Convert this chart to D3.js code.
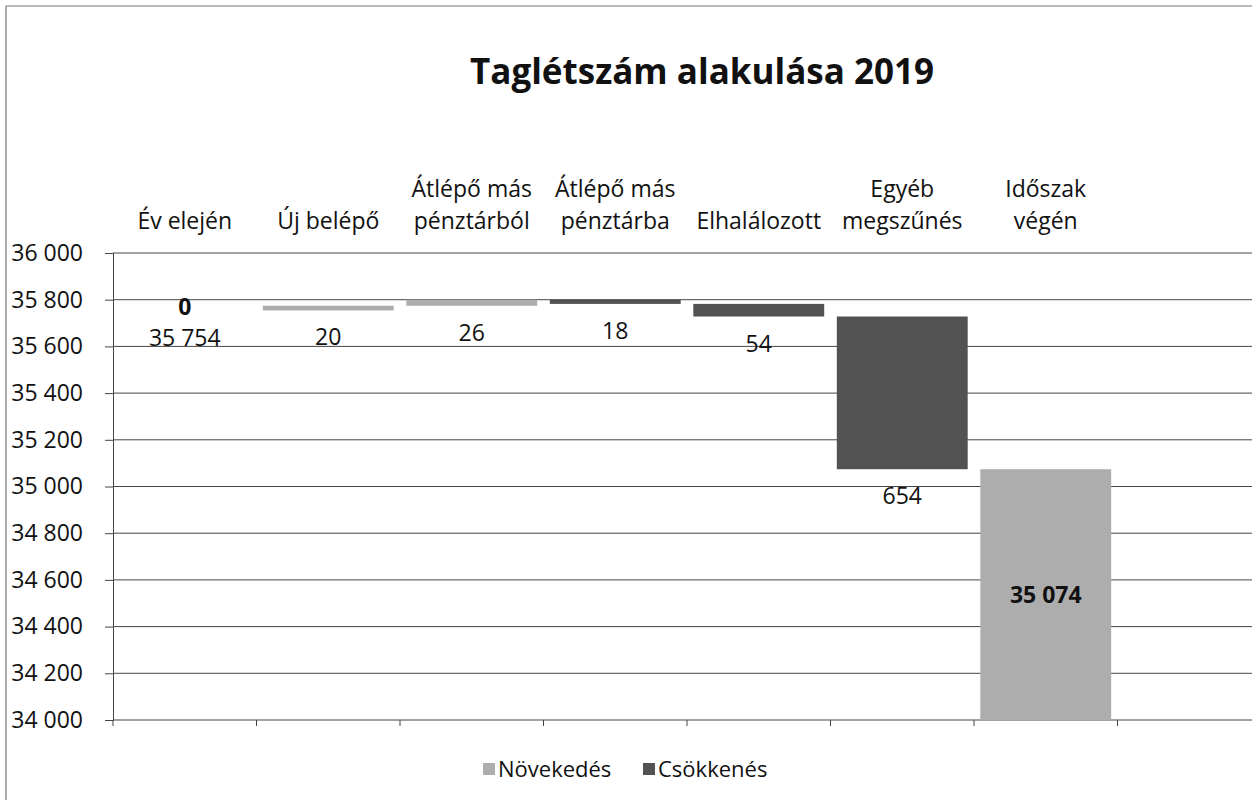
<!DOCTYPE html>
<html>
<head>
<meta charset="utf-8">
<script src="https://cdn.jsdelivr.net/npm/d3@7"></script>
<style>
  html, body { margin: 0; padding: 0; background: #fff; }
  svg { display: block; font-family: "Open Sans", "DejaVu Sans", sans-serif; }
</style>
</head>
<body>
<svg id="chart" width="1252" height="800"></svg>
<script>
// ---- data ----
const title = "Taglétszám alakulása 2019";
const categories = [
  ["Év elején"],
  ["Új belépő"],
  ["Átlépő más", "pénztárból"],
  ["Átlépő más", "pénztárba"],
  ["Elhalálozott"],
  ["Egyéb", "megszűnés"],
  ["Időszak", "végén"]
];
const baseValues = [35754, 35754, 35774, 35782, 35728, 35074, 0];   // invisible series
const increaseValues = [0, 20, 26, 0, 0, 0, 35074];                  // Növekedés
const decreaseValues = [0, 0, 0, 18, 54, 654, 0];                    // Csökkenés
const seriesNames = ["Növekedés", "Csökkenés"];
const yTicks = [34000, 34200, 34400, 34600, 34800, 35000, 35200, 35400, 35600, 35800, 36000];

// ---- setup ----
const svg = d3.select("#chart");
const W = 1252, H = 800;
const colInc = "#adadad", colDec = "#525252", gridCol = "#454545";
const locale = d3.formatLocale({decimal: ",", thousands: " ", grouping: [3], currency: ["", ""]});
const fmt = locale.format(",");
const fs = 23;

const left = 113, step = 143.5;
const x = d3.scaleBand()
  .domain(d3.range(categories.length + 1))
  .range([left, left + step * (categories.length + 1)])
  .paddingInner(0.088).paddingOuter(0.044);
const y = d3.scaleLinear().domain([34000, 36000]).range([720, 253]);

// chart border (top / left)
svg.append("line").attr("x1", 6).attr("x2", W).attr("y1", 6).attr("y2", 6)
  .attr("stroke", "#777").attr("stroke-width", 1.2);
svg.append("line").attr("x1", 6).attr("x2", 6).attr("y1", 6).attr("y2", H)
  .attr("stroke", "#777").attr("stroke-width", 1.2);

// title
svg.append("text").attr("x", 702).attr("y", 84).attr("text-anchor", "middle")
  .attr("font-size", 35).attr("font-weight", "bold").attr("fill", "#111").text(title);

// gridlines + y labels
const yAxis = d3.axisLeft(y).tickValues(yTicks).tickSize(8).tickFormat(fmt);
const gy = svg.append("g").attr("transform", `translate(${left},0)`).call(yAxis);
gy.select(".domain").attr("stroke", gridCol);
gy.selectAll(".tick line").attr("stroke", gridCol);
gy.selectAll(".tick text").attr("x", -30).attr("font-size", fs).attr("fill", "#111")
  .attr("font-family", "\"Open Sans\", sans-serif");
svg.append("g").selectAll("line").data(yTicks).join("line")
  .attr("x1", left).attr("x2", W).attr("y1", d => y(d)).attr("y2", d => y(d))
  .attr("stroke", gridCol).attr("stroke-width", 1);

// category tick marks at bottom
const bounds = d3.range(categories.length + 2).map(i => left + i * step);
svg.append("g").selectAll("line").data(bounds).join("line")
  .attr("x1", d => d).attr("x2", d => d).attr("y1", y(34000)).attr("y2", y(34000) + 6)
  .attr("stroke", gridCol);

// category labels above plot
const catG = svg.append("g");
categories.forEach((lines, i) => {
  const cx = x(i) + x.bandwidth() / 2;
  const t = catG.append("text").attr("text-anchor", "middle").attr("font-size", fs).attr("fill", "#111");
  const base = 229;
  lines.forEach((ln, j) => {
    t.append("tspan").attr("x", cx).attr("y", base - (lines.length - 1 - j) * 32).text(ln);
  });
});

// bars
const rows = categories.map((c, i) => ({i, base: baseValues[i], inc: increaseValues[i], dec: decreaseValues[i]}));
const clampY = v => y(Math.max(v, y.domain()[0]));
svg.append("g").selectAll("rect.inc").data(rows.filter(d => d.inc > 0)).join("rect")
  .attr("class", "inc")
  .attr("x", d => x(d.i)).attr("width", x.bandwidth())
  .attr("y", d => y(d.base + d.inc)).attr("height", d => clampY(d.base) - y(d.base + d.inc))
  .attr("fill", colInc);
svg.append("g").selectAll("rect.dec").data(rows.filter(d => d.dec > 0)).join("rect")
  .attr("class", "dec")
  .attr("x", d => x(d.i)).attr("width", x.bandwidth())
  .attr("y", d => y(d.base + d.inc + d.dec)).attr("height", d => y(d.base) - y(d.base + d.inc + d.dec))
  .attr("fill", colDec);

// data labels
const lab = svg.append("g").attr("font-size", fs).attr("fill", "#111").attr("text-anchor", "middle");
const last = rows.length - 1;
rows.forEach(d => {
  const cx = x(d.i) + x.bandwidth() / 2;
  if (d.i === 0) {
    lab.append("text").attr("x", cx).attr("y", y(d.base) + 5).attr("font-weight", "bold").text(fmt(d.inc));
    lab.append("text").attr("x", cx).attr("y", y(d.base) + 36).text(fmt(d.base));
  } else if (d.i === last) {
    const top = y(d.base + d.inc), bot = clampY(d.base);
    lab.append("text").attr("x", cx).attr("y", (top + bot) / 2 + 8).attr("font-weight", "bold").text(fmt(d.inc));
  } else {
    const v = d.inc > 0 ? d.inc : d.dec;
    lab.append("text").attr("x", cx).attr("y", y(d.base) + 35).text(fmt(v));
  }
});

// legend
const lg = svg.append("g").attr("transform", "translate(0,770)");
const legendItems = [{name: seriesNames[0], color: colInc, x: 483}, {name: seriesNames[1], color: colDec, x: 643}];
legendItems.forEach(it => {
  lg.append("rect").attr("x", it.x).attr("y", -7).attr("width", 12).attr("height", 12).attr("fill", it.color);
  lg.append("text").attr("x", it.x + 15).attr("y", 7).attr("font-size", 22).attr("fill", "#111").text(it.name);
});
</script>
</body>
</html>
